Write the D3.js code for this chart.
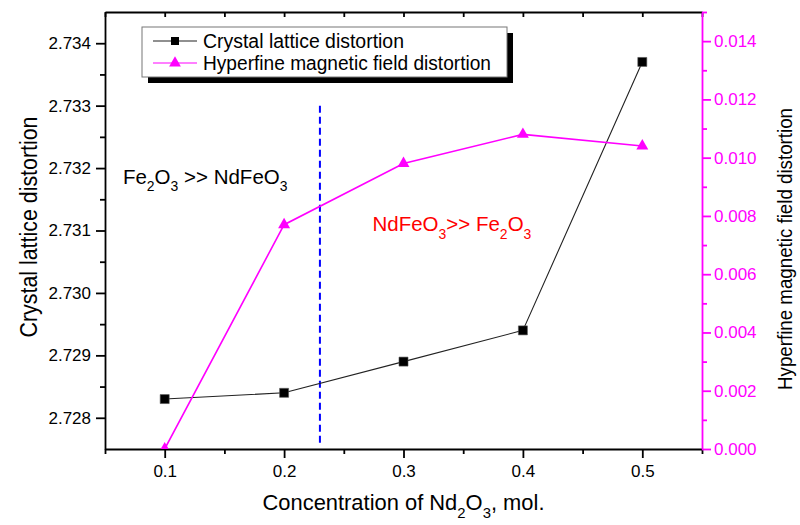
<!DOCTYPE html>
<html>
<head>
<meta charset="utf-8">
<script src="https://cdn.jsdelivr.net/npm/d3@7"></script>
<style>
  body { margin: 0; background: #fff; }
  svg { font-family: "Liberation Sans", Arial, sans-serif; }
  .axis path, .axis line { stroke-width: 1.8; }
</style>
</head>
<body>
<svg id="chart" width="800" height="525"></svg>
<script>
// data
var conc = [0.1, 0.2, 0.3, 0.4, 0.5];
var lattice = [2.7283, 2.7284, 2.7289, 2.7294, 2.7337];
var hyperfine = [0.0000, 0.0077, 0.0098, 0.0108, 0.0104];

var xMajor = [0.1, 0.2, 0.3, 0.4, 0.5];
var xMinor = [0.05, 0.15, 0.25, 0.35, 0.45, 0.55];
var leftMajor = [2.728, 2.729, 2.730, 2.731, 2.732, 2.733, 2.734];
var leftMinor = [2.7285, 2.7295, 2.7305, 2.7315, 2.7325, 2.7335];
var rightMajor = [0, 0.002, 0.004, 0.006, 0.008, 0.010, 0.012, 0.014];
var rightMinor = [0.001, 0.003, 0.005, 0.007, 0.009, 0.011, 0.013, 0.015];

var boundaryX = 0.23;
var boundaryY = [2.7276, 2.73305];

var margin = {top: 12, right: 98, bottom: 76, left: 105};
var width = 800 - margin.left - margin.right;
var height = 525 - margin.top - margin.bottom;
var pink = "#ff00ff";

var x = d3.scaleLinear().domain([0.05, 0.55]).range([0, width]);
var yL = d3.scaleLinear().domain([2.7275, 2.7345]).range([height, 0]);
var yR = d3.scaleLinear().domain([0, 0.015]).range([height, 0]);

var svg = d3.select("#chart")
    .append("g")
    .attr("transform", "translate(" + margin.left + "," + margin.top + ")");

svg.append("clipPath").attr("id", "plotClip")
    .append("rect").attr("width", width).attr("height", height);

// bottom axis
svg.append("g").attr("class", "axis")
    .attr("transform", "translate(0," + height + ")")
    .call(d3.axisBottom(x).tickValues(xMinor).tickSize(5).tickFormat(""))
    .call(function(g) { g.select(".domain").remove(); });
svg.append("g").attr("class", "axis")
    .attr("transform", "translate(0," + height + ")")
    .call(d3.axisBottom(x).tickValues(xMajor).tickSize(9).tickSizeOuter(0).tickPadding(7).tickFormat(d3.format(".1f")))
    .selectAll("text").style("font-size", "17px").attr("fill", "#000");

// top axis, ticks inward
svg.append("g").attr("class", "axis")
    .call(d3.axisTop(x).tickValues(xMajor.concat(xMinor)).tickSizeInner(-5).tickSizeOuter(0).tickFormat(""));

// left axis
svg.append("g").attr("class", "axis")
    .call(d3.axisLeft(yL).tickValues(leftMinor).tickSize(5).tickFormat(""))
    .call(function(g) { g.select(".domain").remove(); });
svg.append("g").attr("class", "axis")
    .call(d3.axisLeft(yL).tickValues(leftMajor).tickSize(9).tickSizeOuter(0).tickPadding(5).tickFormat(d3.format(".3f")))
    .selectAll("text").style("font-size", "17px").attr("fill", "#000");

// right axis (magenta)
var rAxis = svg.append("g").attr("class", "axis")
    .attr("transform", "translate(" + width + ",0)");
rAxis.append("g")
    .call(d3.axisRight(yR).tickValues(rightMinor).tickSize(5).tickFormat(""))
    .call(function(g) { g.select(".domain").remove(); });
rAxis.append("g")
    .call(d3.axisRight(yR).tickValues(rightMajor).tickSize(9).tickSizeOuter(0).tickPadding(3).tickFormat(d3.format(".3f")))
    .selectAll("text").style("font-size", "17px");
rAxis.selectAll("path, line").attr("stroke", pink);
rAxis.selectAll("text").attr("fill", pink);

// boundary line
svg.append("line")
    .attr("x1", x(boundaryX)).attr("x2", x(boundaryX))
    .attr("y1", yL(boundaryY[0])).attr("y2", yL(boundaryY[1]))
    .attr("stroke", "#0000ff").attr("stroke-width", 2)
    .attr("stroke-dasharray", "7,4");

var plot = svg.append("g").attr("clip-path", "url(#plotClip)");

// lattice series
plot.append("path")
    .datum(conc)
    .attr("fill", "none").attr("stroke", "#222").attr("stroke-width", 1.1)
    .attr("d", d3.line().x(function(d) { return x(d); })
        .y(function(d, i) { return yL(lattice[i]); }));

// hyperfine series
plot.append("path")
    .datum(conc)
    .attr("fill", "none").attr("stroke", pink).attr("stroke-width", 1.6)
    .attr("d", d3.line().x(function(d) { return x(d); })
        .y(function(d, i) { return yR(hyperfine[i]); }));

plot.selectAll(".sq")
    .data(conc)
    .enter().append("path")
    .attr("class", "sq")
    .attr("d", d3.symbol().type(d3.symbolSquare).size(81))
    .attr("transform", function(d, i) { return "translate(" + x(d) + "," + yL(lattice[i]) + ")"; })
    .attr("fill", "#000").attr("stroke", "#555").attr("stroke-width", 0.6);

plot.selectAll(".tri")
    .data(conc)
    .enter().append("path")
    .attr("class", "tri")
    .attr("d", d3.symbol().type(d3.symbolTriangle).size(62))
    .attr("transform", function(d, i) { return "translate(" + x(d) + "," + yR(hyperfine[i]) + ")"; })
    .attr("fill", pink);

// legend
var leg = svg.append("g").attr("transform", "translate(37,15)");
leg.append("rect").attr("x", 6).attr("y", 6).attr("width", 365).attr("height", 50).attr("fill", "#000");
leg.append("rect").attr("width", 365).attr("height", 50).attr("fill", "#fff").attr("stroke", "#777").attr("stroke-width", 1);
var legItems = [
    {label: "Crystal lattice distortion", color: "#222", sym: d3.symbolSquare, size: 64, y: 14},
    {label: "Hyperfine magnetic field distortion", color: pink, sym: d3.symbolTriangle, size: 60, y: 36}
];
legItems.forEach(function(it) {
    leg.append("line").attr("x1", 11).attr("x2", 55).attr("y1", it.y).attr("y2", it.y)
        .attr("stroke", it.color).attr("stroke-width", 1.1);
    leg.append("path").attr("d", d3.symbol().type(it.sym).size(it.size)())
        .attr("transform", "translate(33," + it.y + ")").attr("fill", it.color === pink ? pink : "#000");
    leg.append("text").attr("x", 61).attr("y", it.y + 7)
        .style("font-size", "19.5px").attr("fill", "#000")
        .attr("textLength", it.y < 20 ? 201 : 288).attr("lengthAdjust", "spacingAndGlyphs")
        .text(it.label);
});

// text with chemical subscripts
function chem(g, parts, size, color) {
    var t = g.append("text").style("font-size", size + "px").attr("fill", color);
    var low = false;
    parts.forEach(function(p) {
        if (p.sub) {
            t.append("tspan").attr("dy", low ? 0 : 7.5).style("font-size", (size * 0.68) + "px").text(p.sub);
            low = true;
        } else {
            t.append("tspan").attr("dy", low ? -7.5 : 0).text(p.t);
            low = false;
        }
    });
    return t;
}

chem(svg, [{t: "Fe"}, {sub: "2"}, {t: "O"}, {sub: "3"}, {t: " >> NdFeO"}, {sub: "3"}], 20.5, "#000")
    .attr("x", x(0.065)).attr("y", yL(2.73175));
chem(svg, [{t: "NdFeO"}, {sub: "3"}, {t: ">> Fe"}, {sub: "2"}, {t: "O"}, {sub: "3"}], 20.5, "#ff0000")
    .attr("x", x(0.274)).attr("y", yL(2.73099));

// axis titles
chem(svg, [{t: "Concentration of Nd"}, {sub: "2"}, {t: "O"}, {sub: "3"}, {t: ", mol."}], 22, "#000")
    .attr("x", width / 2).attr("y", height + 61)
    .attr("text-anchor", "middle")
    .attr("textLength", 282).attr("lengthAdjust", "spacingAndGlyphs");

svg.append("text")
    .attr("transform", "translate(" + (37 - margin.left) + "," + (227 - margin.top) + ") rotate(-90)")
    .attr("text-anchor", "middle")
    .style("font-size", "23px")
    .attr("textLength", 221).attr("lengthAdjust", "spacingAndGlyphs")
    .text("Crystal lattice distortion");

svg.append("text")
    .attr("transform", "translate(" + (792 - margin.left) + "," + (249 - margin.top) + ") rotate(-90)")
    .attr("text-anchor", "middle")
    .style("font-size", "21px")
    .attr("textLength", 282).attr("lengthAdjust", "spacingAndGlyphs")
    .text("Hyperfine magnetic field distortion");
</script>
</body>
</html>
